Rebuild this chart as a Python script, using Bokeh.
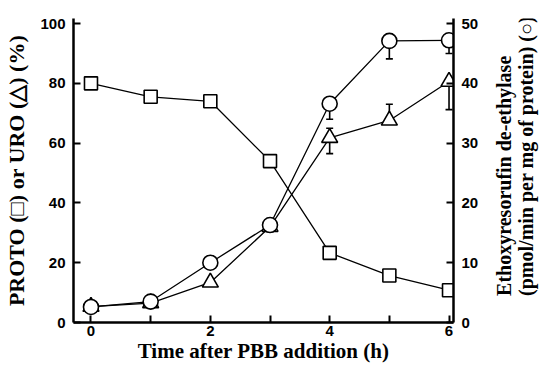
import math
from bokeh.plotting import figure
from bokeh.layouts import row
from bokeh.core.properties import value
from bokeh.models import Range1d, LinearAxis, FixedTicker, ColumnDataSource, Whisker, TeeHead
from bokeh.embed import file_html
from bokeh.resources import INLINE

# ---- data ----
time_h = [0, 1, 2, 3, 4, 5, 6]
proto = [80, 75.5, 74, 54, 23.3, 15.7, 10.8]          # % (left axis)
uro = [5.3, 6.5, 13.4, 32, 61.8, 67.6, 80.6]          # % (left axis)
erod = [2.6, 3.5, 10, 16.3, 36.6, 47.1, 47.2]         # pmol/min per mg protein (right axis)

uro_err_x = [4, 5, 6]
uro_err_lower = [56.5, 67.6, 71.2]
uro_err_upper = [65, 73, 80.6]

erod_err_x = [4, 5, 6]
erod_err_lower = [34, 44.1, 45]
erod_err_upper = [36.6, 47.1, 47.2]

left_ticks = [0, 20, 40, 60, 80, 100]
right_ticks = [0, 10, 20, 30, 40, 50]
x_ticks = [0, 1, 2, 3, 4, 5, 6]
x_tick_labels = {0: "0", 1: "", 2: "2", 3: "", 4: "4", 5: "", 6: "6"}

x_title = "Time after PBB addition (h)"
left_title = "PROTO (□) or URO (△) (%)"
right_titles = ["Ethoxyresorufin de-ethylase", "(pmol/min per mg of protein) (○)"]

MAIN_W, SIDE_W, H = 490, 49, 366

p = figure(width=MAIN_W, height=H, output_backend="svg", toolbar_location=None,
           x_range=Range1d(-0.293, 6.075), y_range=Range1d(0, 101.7),
           min_border_left=73, min_border_right=37, min_border_top=18, min_border_bottom=44)
p.extra_y_ranges = {"right": Range1d(0, 50.85)}
p.outline_line_color = None
p.xgrid.visible = False
p.ygrid.visible = False
p.background_fill_color = "white"
p.border_fill_color = "white"

tick_font = "Liberation Sans"
label_font = "Liberation Serif"

def style_axis(ax, label=None, size="21px", standoff=0):
    ax.axis_line_width = 2.5
    ax.axis_line_color = "black"
    ax.major_tick_line_width = 2
    ax.major_tick_in = 7
    ax.major_tick_out = 0
    ax.minor_tick_line_color = None
    ax.major_label_text_font = tick_font
    ax.major_label_text_font_style = "bold"
    ax.major_label_text_font_size = "15px"
    ax.major_label_text_color = "black"
    if label is not None:
        ax.axis_label = label
        ax.axis_label_text_font = label_font
        ax.axis_label_text_font_style = "bold"
        ax.axis_label_text_font_size = size
        ax.axis_label_text_color = "black"
        ax.axis_label_standoff = standoff

xa = p.xaxis[0]
style_axis(xa, x_title, "21px", 0)
xa.ticker = FixedTicker(ticks=x_ticks)
xa.major_label_overrides = x_tick_labels
xa.major_label_standoff = 3

ya = p.yaxis[0]
style_axis(ya, left_title, "22px", 8)
ya.ticker = FixedTicker(ticks=left_ticks)
ya.major_label_standoff = 8

ra = LinearAxis(y_range_name="right")
style_axis(ra)
ra.ticker = FixedTicker(ticks=right_ticks)
ra.major_label_standoff = 8
p.add_layout(ra, "right")

# error bars
usrc = ColumnDataSource(dict(x=uro_err_x, lower=uro_err_lower, upper=uro_err_upper))
esrc = ColumnDataSource(dict(x=erod_err_x, lower=erod_err_lower, upper=erod_err_upper))
p.add_layout(Whisker(source=usrc, base="x", lower="lower", upper="upper",
                     line_width=1.6, line_color="black",
                     lower_head=TeeHead(size=7, line_width=1.6),
                     upper_head=TeeHead(size=7, line_width=1.6)))
p.add_layout(Whisker(source=esrc, base="x", lower="lower", upper="upper",
                     y_range_name="right",
                     line_width=1.6, line_color="black",
                     lower_head=TeeHead(size=7, line_width=1.6),
                     upper_head=TeeHead(size=7, line_width=1.6)))

lw = 1.3
# PROTO squares
p.line(time_h, proto, line_color="black", line_width=lw)
p.scatter(time_h, proto, marker="square", size=13, fill_color="white",
          line_color="black", line_width=1.6)
# URO triangles
p.line(time_h, uro, line_color="black", line_width=lw)
p.scatter(time_h, uro, marker="triangle", size=16, fill_color="white",
          line_color="black", line_width=1.6)
# EROD circles
p.line(time_h, erod, line_color="black", line_width=lw, y_range_name="right")
p.scatter(time_h, erod, marker="circle", size=15, fill_color="white",
          line_color="black", line_width=1.6, y_range_name="right")

# side panel carrying the right-hand axis title (reads bottom to top)
side = figure(width=SIDE_W, height=H, output_backend="svg", toolbar_location=None,
              x_range=Range1d(0, SIDE_W), y_range=Range1d(0, H),
              x_axis_type=None, y_axis_type=None, min_border=0)
side.outline_line_color = None
side.xgrid.visible = False
side.ygrid.visible = False
side.background_fill_color = "white"
side.border_fill_color = "white"
side.text(x=[13, 35], y=[H - 334, H - 334], text=right_titles, angle=math.pi / 2,
          text_align="left", text_baseline="middle",
          text_font=value(label_font), text_font_style="bold",
          text_font_size="20px", text_color="black")

layout = row(p, side, spacing=0)
open("out.html", "w").write(file_html(layout, INLINE))
